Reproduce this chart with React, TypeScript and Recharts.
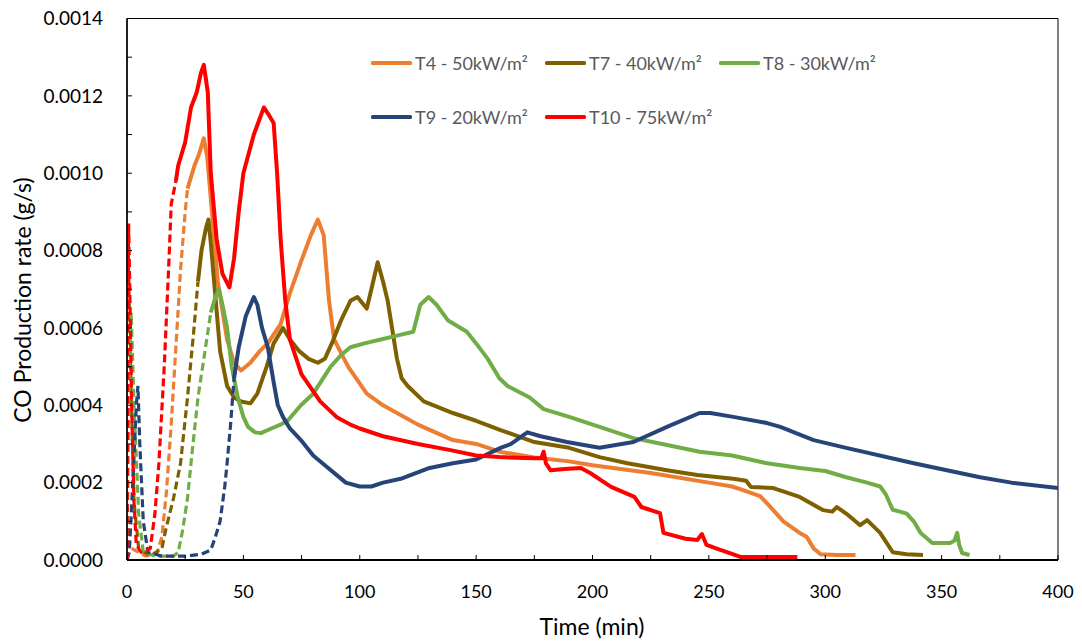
import React from "react";
import {
  LineChart,
  Line,
  XAxis,
  YAxis,
  Legend,
  Label,
  ReferenceArea,
} from "recharts";

type Pt = [number, number];

// [time (min), CO rate (g/s)] — dashed rise, then solid measured curve
const T4_RISE: Pt[] = [[2, 0.00003], [8, 0.00001], [13, 0.00002], [15, 0.00006], [17, 0.00018], [19, 0.00035], [21, 0.00055], [23, 0.00075], [25, 0.0009], [26, 0.00096]];
const T4_MAIN: Pt[] = [[26, 0.00096], [29, 0.00102], [31, 0.00105], [33, 0.00109], [34.5, 0.00104], [36.5, 0.0009], [39, 0.00072], [43, 0.00057], [46, 0.00051], [49, 0.00049], [53, 0.00051], [57, 0.00054], [60.5, 0.00056], [66, 0.00061], [70, 0.00069], [74.7, 0.00077], [79, 0.00084], [82, 0.00088], [84.5, 0.00084], [86.8, 0.00067], [89, 0.00057], [95, 0.0005], [103, 0.00043], [110, 0.0004], [125, 0.00035], [140, 0.00031], [150, 0.0003], [160, 0.00028], [175, 0.000265], [190, 0.000255], [200, 0.000245], [225, 0.000225], [250, 0.0002], [260, 0.00019], [265, 0.00018], [272, 0.000165], [276, 0.00014], [282, 0.0001], [289, 0.00007], [292, 0.00006], [295, 0.00003], [298, 0.000015], [305, 0.000013], [313, 0.000013]];

const T7_RISE: Pt[] = [[0, 0], [0.5, 0.0008], [1.5, 0.0005], [3, 0.00015], [5, 0.00003], [10, 0.00001], [15, 0.00003], [16.7, 0.00008], [20, 0.00016], [23, 0.00025], [26, 0.00042], [28.8, 0.0006], [30.5, 0.00072]];
const T7_MAIN: Pt[] = [[30.5, 0.00072], [32, 0.0008], [34, 0.00086], [35, 0.00088], [36, 0.00082], [38, 0.00068], [40, 0.00054], [43, 0.00045], [46, 0.00042], [49, 0.00041], [53, 0.000405], [56, 0.00043], [60, 0.0005], [63, 0.00056], [67, 0.0006], [70, 0.00057], [74, 0.00054], [78, 0.00052], [82, 0.00051], [85, 0.00052], [88, 0.00056], [92, 0.00062], [96, 0.00067], [99, 0.00068], [103, 0.00065], [105, 0.0007], [107.7, 0.00077], [110, 0.00072], [112, 0.00067], [116, 0.00052], [118, 0.00047], [120.6, 0.00045], [127.5, 0.00041], [140, 0.00038], [150, 0.00036], [160.5, 0.000336], [175, 0.000305], [190, 0.00029], [203, 0.000266], [215, 0.00025], [232, 0.000232], [245, 0.00022], [260.5, 0.00021], [266, 0.000205], [268, 0.000189], [277.7, 0.000186], [289, 0.000163], [299, 0.000129], [303, 0.000125], [305, 0.000137], [309, 0.00012], [315, 0.00009], [318, 0.000103], [323.6, 0.00007], [329, 0.00002], [335, 0.000015], [342, 0.000013]];

const T8_RISE: Pt[] = [[0, 0], [1, 0.00055], [1.8, 0.00064], [3, 0.0004], [5, 0.00012], [7, 0.00002], [12, 0.00001], [20, 0.00001], [22, 0.00002], [24, 0.00008], [26, 0.00016], [28, 0.00028], [30.5, 0.00042], [33, 0.00052], [35, 0.0006], [36, 0.00064]];
const T8_MAIN: Pt[] = [[36, 0.00064], [38, 0.00068], [39.5, 0.0007], [41, 0.00066], [43, 0.0006], [45, 0.0005], [47.6, 0.00042], [50, 0.00037], [52, 0.000344], [55, 0.00033], [57.5, 0.000328], [62, 0.00034], [66, 0.00035], [69, 0.00036], [74.7, 0.0004], [80, 0.00043], [87.5, 0.0005], [92, 0.00053], [96, 0.00055], [102, 0.00056], [109, 0.00057], [116, 0.00058], [123, 0.00059], [126, 0.00066], [129.6, 0.00068], [133, 0.00066], [137.8, 0.00062], [146, 0.00059], [150, 0.00056], [155, 0.00052], [160, 0.00047], [163.5, 0.00045], [173, 0.00042], [179, 0.00039], [190, 0.00037], [203, 0.000344], [217.6, 0.000315], [230, 0.0003], [246, 0.00028], [260, 0.00027], [275, 0.00025], [289, 0.000238], [300, 0.00023], [309, 0.000214], [318, 0.0002], [323.6, 0.00019], [326, 0.00017], [329, 0.00013], [332, 0.000125], [335, 0.00012], [338, 0.0001], [341, 0.00007], [346, 0.000044], [353.6, 0.000044], [355.5, 0.00005], [356.7, 0.00007], [357.5, 0.00004], [358.8, 0.000018], [362, 0.000013]];

const T9_RISE: Pt[] = [[0, 0], [1, 0.00002], [2.5, 0.0002], [4, 0.0004], [4.7, 0.00045], [5.5, 0.0003], [7, 0.0001], [9, 0.00002], [15, 0.00001], [25, 0.00001], [32, 0.000015], [36, 0.000026], [38, 0.00006], [40, 0.0001], [42, 0.00019], [43, 0.00025], [44.5, 0.00035], [46, 0.00047]];
const T9_MAIN: Pt[] = [[46, 0.00047], [48, 0.00055], [51, 0.00063], [54.5, 0.00068], [56, 0.00066], [58, 0.0006], [60.5, 0.00055], [63, 0.00046], [64.8, 0.0004], [67, 0.00037], [70, 0.00034], [74.7, 0.00031], [80, 0.00027], [85, 0.000245], [90, 0.00022], [94, 0.0002], [100, 0.00019], [105, 0.00019], [110, 0.0002], [117.6, 0.00021], [130, 0.000238], [140, 0.00025], [150, 0.00026], [160.5, 0.00029], [165, 0.0003], [172, 0.00033], [177.7, 0.00032], [189, 0.000305], [203, 0.00029], [217.6, 0.000305], [232, 0.000344], [246, 0.00038], [250.6, 0.00038], [260.5, 0.00037], [275, 0.000354], [280.7, 0.000344], [295, 0.00031], [309, 0.00029], [338, 0.00025], [366.5, 0.000214], [380, 0.0002], [400, 0.000186]];

const T10_RISE: Pt[] = [[0, 0], [0.3, 0.0006], [0.7, 0.00087], [1.2, 0.0007], [2, 0.0004], [3, 0.00015], [4, 0.00004], [6, 0.00002], [8, 0.00002], [10, 0.00003], [12, 0.00012], [13.7, 0.00025], [16, 0.0005], [18, 0.00077], [19, 0.00092], [21, 0.00098]];
const T10_MAIN: Pt[] = [[21, 0.00098], [22, 0.00102], [23, 0.00104], [25, 0.00108], [27.5, 0.00117], [30, 0.00121], [31.8, 0.00126], [33, 0.00128], [34.7, 0.00121], [36, 0.001], [38.5, 0.00083], [41, 0.00074], [44, 0.000705], [46, 0.00078], [48, 0.0009], [50, 0.001], [54.5, 0.0011], [58.8, 0.00117], [61, 0.00115], [63, 0.00113], [64.5, 0.001], [66, 0.00083], [68, 0.00067], [70, 0.00057], [75, 0.00048], [83, 0.00041], [90, 0.00037], [96, 0.00035], [100, 0.00034], [110, 0.00032], [125, 0.0003], [139, 0.000284], [150, 0.00027], [160, 0.000266], [175, 0.000263], [178, 0.000263], [179, 0.00028], [180, 0.00025], [182, 0.000232], [188, 0.000235], [195, 0.000238], [199, 0.000225], [208, 0.000189], [218, 0.000163], [221, 0.000137], [229, 0.000121], [230.5, 0.00007], [240, 0.000055], [245, 0.000052], [247, 0.000067], [249, 0.000039], [254, 0.000028], [259, 0.000018], [263.5, 0.000008], [288, 0.000008]];

const X_TICKS = [0, 25, 50, 75, 100, 125, 150, 175, 200, 225, 250, 275, 300, 325, 350, 375, 400];
const Y_TICKS = [0, 0.0001, 0.0002, 0.0003, 0.0004, 0.0005, 0.0006, 0.0007, 0.0008, 0.0009, 0.001, 0.0011, 0.0012, 0.0013, 0.0014];

const SERIES = [
  { name: "T4 - 50kW/m²", color: "#ED7D31", rise: T4_RISE, main: T4_MAIN },
  { name: "T7 - 40kW/m²", color: "#7F6000", rise: T7_RISE, main: T7_MAIN },
  { name: "T8 - 30kW/m²", color: "#70AD47", rise: T8_RISE, main: T8_MAIN },
  { name: "T9 - 20kW/m²", color: "#264478", rise: T9_RISE, main: T9_MAIN },
  { name: "T10 - 75kW/m²", color: "#FF0000", rise: T10_RISE, main: T10_MAIN },
];

const FONT = "Lato, 'Open Sans', sans-serif";
const toRows = (pts: Pt[]) => pts.map(([t, v]) => ({ t, v }));

function XTick({ x, y, payload }: any) {
  const v = payload.value;
  return (
    <g>
      <line x1={x} y1={y} x2={x} y2={y - 5} stroke="#000" strokeWidth={1} />
      {v % 50 === 0 && (
        <text x={x} y={y + 38} textAnchor="middle" fontSize={18} fontFamily={FONT} fill="#000">
          {v}
        </text>
      )}
    </g>
  );
}

function YTick({ x, y, payload }: any) {
  const v = payload.value;
  const major = Math.round(v * 10000) % 2 === 0;
  return (
    <g>
      <line x1={x} y1={y} x2={x + 5} y2={y} stroke="#000" strokeWidth={1} />
      {major && (
        <text x={x - 24} y={y} dy="0.36em" textAnchor="end" fontSize={19} fontFamily={FONT} fill="#000">
          {v.toFixed(4)}
        </text>
      )}
    </g>
  );
}

function LegendBox() {
  return (
    <div style={{ display: "flex", flexWrap: "wrap", width: 522 }}>
      {SERIES.map((s) => (
        <div key={s.name} style={{ width: 174, height: 54, display: "flex", alignItems: "center" }}>
          <span style={{ display: "inline-block", width: 41, height: 3.5, background: s.color, borderRadius: 1.5, marginRight: 3 }} />
          <span style={{ fontFamily: FONT, fontSize: 18, color: "#595959", whiteSpace: "nowrap" }}>{s.name}</span>
        </div>
      ))}
    </div>
  );
}

export default function App() {
  return (
    <div style={{ position: "absolute", left: 0, top: 0, background: "#fff" }}>
      <LineChart width={1082} height={641} margin={{ top: 18.5, right: 24, bottom: 0, left: 0 }}>
        <XAxis
          type="number"
          dataKey="t"
          domain={[0, 400]}
          ticks={X_TICKS}
          interval={0}
          tick={<XTick />}
          tickSize={0}
          tickMargin={0}
          height={81}
          axisLine={{ stroke: "#000", strokeWidth: 2 }}
          allowDataOverflow
        >
          <Label
            content={() => (
              <text x={592} y={635} textAnchor="middle" fontSize={23} fontFamily={FONT} fill="#000">
                Time (min)
              </text>
            )}
          />
        </XAxis>
        <YAxis
          type="number"
          domain={[0, 0.0014]}
          ticks={Y_TICKS}
          interval={0}
          tick={<YTick />}
          tickSize={0}
          tickMargin={0}
          width={127}
          axisLine={{ stroke: "#000", strokeWidth: 1.5 }}
          allowDataOverflow
        >
          <Label
            content={() => (
              <text x={22} y={300} transform="rotate(-90 22 300)" textAnchor="middle" dominantBaseline="central" fontSize={23} fontFamily={FONT} fill="#000">
                CO Production rate (g/s)
              </text>
            )}
          />
        </YAxis>
        <ReferenceArea x1={0} x2={400} y1={0} y2={0.0014} fill="none" stroke="#000" strokeWidth={1} />
        {SERIES.flatMap((s) => [
          <Line
            key={s.name + "-rise"}
            data={toRows(s.rise)}
            dataKey="v"
            stroke={s.color}
            strokeWidth={3.2}
            strokeDasharray="8 4"
            dot={false}
            legendType="none"
            isAnimationActive={false}
          />,
          <Line
            key={s.name + "-main"}
            data={toRows(s.main)}
            dataKey="v"
            name={s.name}
            stroke={s.color}
            strokeWidth={4}
            strokeLinejoin="round"
            dot={false}
            isAnimationActive={false}
          />,
        ])}
        <Legend
          layout="vertical"
          align="center"
          verticalAlign="middle"
          content={() => <LegendBox />}
          wrapperStyle={{ left: 371, top: 36, width: 522 }}
        />
      </LineChart>
    </div>
  );
}
